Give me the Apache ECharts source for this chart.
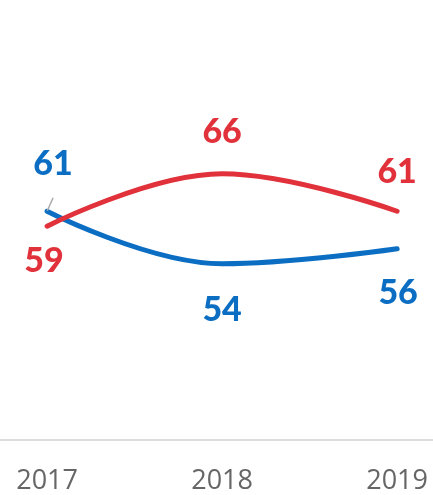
<!DOCTYPE html>
<html>
<head>
<meta charset="utf-8">
<script src="https://cdn.jsdelivr.net/npm/echarts@6/dist/echarts.min.js"></script>
<style>
  html, body { margin: 0; padding: 0; background: #fff; }
  #chart { width: 433px; height: 495px; }
</style>
</head>
<body>
<div id="chart"></div>
<script>
// data
const years = [2017, 2018, 2019];
const blueValues = [61, 54, 56];
const redValues = [59, 66, 61];

const BLUE = "#0b6ec3";
const RED = "#e1313b";

// label placement per point (top = above the line)
const blueLabelPos = [
  { position: "top", distance: 30, offset: [6, 0] },
  { position: "bottom", distance: 29, offset: [0, 0] },
  { position: "bottom", distance: 27, offset: [1, 0] },
];
const redLabelPos = [
  { position: "bottom", distance: 17, offset: [-3, 0] },
  { position: "top", distance: 24, offset: [0, 0] },
  { position: "top", distance: 22, offset: [0, 0] },
];

function buildData(values, placement) {
  let arr = [];
  values.forEach((v, i) => {
    arr.push({
      value: [years[i], v],
      label: {
        position: placement[i].position,
        distance: placement[i].distance,
        offset: placement[i].offset,
      },
    });
  });
  return arr;
}

const blueData = buildData(blueValues, blueLabelPos);
// little leader line on the first blue label
blueData[0].labelLine = {
  show: true,
  showAbove: true,
  length2: 0,
  lineStyle: { color: "#aaaaaa", width: 1.5 },
};

function makeSeries(name, data, color) {
  return {
    name: name,
    type: "line",
    smooth: 0.4,
    symbol: "circle",
    symbolSize: 1,
    showSymbol: true,
    lineStyle: { color: color, width: 5, cap: "round" },
    itemStyle: { color: "rgba(0,0,0,0)", borderWidth: 0 },
    label: {
      show: true,
      color: color,
      fontFamily: "Lato",
      fontWeight: 900,
      fontSize: 34,
      lineHeight: 34,
      formatter: (p) => p.value[1],
    },
    emphasis: { disabled: true },
    data: data,
  };
}

const chart = echarts.init(document.getElementById("chart"));
chart.setOption({
  animation: false,
  grid: { left: 0, right: 0, top: 65, bottom: 55 },
  xAxis: {
    type: "value",
    min: 2016.731,
    max: 2019.205,
    axisLine: { show: true, onZero: false, lineStyle: { color: "#dddddd", width: 2 } },
    axisTick: { show: false },
    splitLine: { show: false },
    axisLabel: {
      customValues: years,
      formatter: (v) => String(v),
      color: "#666666",
      fontFamily: "Open Sans",
      fontSize: 27,
      margin: 28,
    },
  },
  yAxis: {
    type: "value",
    min: 30.5,
    max: 80.5,
    show: false,
    splitLine: { show: false },
  },
  series: [
    makeSeries("blue", blueData, BLUE),
    makeSeries("red", buildData(redValues, redLabelPos), RED),
  ],
});
</script>
</body>
</html>
